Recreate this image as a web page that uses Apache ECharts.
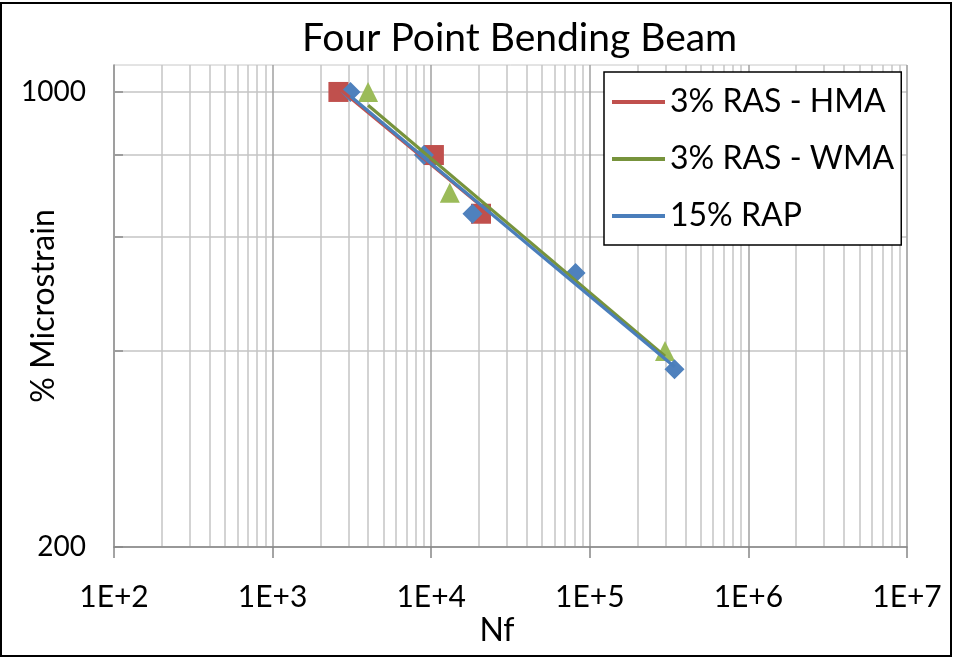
<!DOCTYPE html>
<html>
<head>
<meta charset="utf-8">
<title>Four Point Bending Beam</title>
<script src="https://cdn.jsdelivr.net/npm/echarts@6/dist/echarts.min.js"></script>
<style>
  html, body { margin: 0; padding: 0; background: #ffffff; }
  #chart { width: 953px; height: 658px; }
</style>
</head>
<body>
<div id="chart"></div>
<script>
// Fatigue test results: cycles to failure (Nf) against strain level
const seriesNames = ['3% RAS - HMA', '3% RAS - WMA', '15% RAP'];

const hmaCycles = [2600, 10400, 20600];
const hmaStrain = [1000, 800, 650];

const wmaCycles = [4000, 13100, 298000];
const wmaStrain = [1000, 700, 400];

const rapCycles = [3100, 9000, 18200, 81300, 342000];
const rapStrain = [1000, 800, 650, 527, 375];

// Axis ticks
const xMajorTicks = [1e2, 1e3, 1e4, 1e5, 1e6, 1e7];
const xMajorLabels = ['1E+2', '1E+3', '1E+4', '1E+5', '1E+6', '1E+7'];
const xMinorMultipliers = [2, 3, 4, 5, 6, 7, 8, 9];
const yGridValues = [200, 400, 600, 800, 1000];
const yLabelValues = [200, 1000];

const FONT = 'Lato, "Open Sans", sans-serif';

const xMinorTicks = [];
xMajorTicks.slice(0, -1).forEach(function (d) {
  xMinorMultipliers.forEach(function (m) { xMinorTicks.push(d * m); });
});

// Power-law trendline (least squares on log-log), spanning each series' range
function powerFit(xs, ys) {
  const lx = xs.map(Math.log), ly = ys.map(Math.log);
  const n = lx.length;
  const mx = lx.reduce((a, b) => a + b, 0) / n;
  const my = ly.reduce((a, b) => a + b, 0) / n;
  let sxy = 0, sxx = 0;
  for (let i = 0; i < n; i++) {
    sxy += (lx[i] - mx) * (ly[i] - my);
    sxx += (lx[i] - mx) * (lx[i] - mx);
  }
  const b = sxy / sxx;
  const a = Math.exp(my - b * mx);
  const x0 = Math.min.apply(null, xs), x1 = Math.max.apply(null, xs);
  return [[x0, a * Math.pow(x0, b)], [x1, a * Math.pow(x1, b)]];
}

function pairs(xs, ys) { return xs.map((x, i) => [x, ys[i]]); }

const groups = [
  { name: seriesNames[0], xs: hmaCycles, ys: hmaStrain, marker: 'rect', size: 20, markColor: '#C0504D', lineColor: '#C0504D' },
  { name: seriesNames[1], xs: wmaCycles, ys: wmaStrain, marker: 'triangle', size: 20, markColor: '#9BBB59', lineColor: '#77933C' },
  { name: seriesNames[2], xs: rapCycles, ys: rapStrain, marker: 'diamond', size: 20, markColor: '#4F81BD', lineColor: '#4A7EBB' }
];

const series = [];
groups.forEach(function (g) {
  series.push({
    name: g.name + ' data',
    type: 'scatter',
    data: pairs(g.xs, g.ys),
    symbol: g.marker,
    symbolSize: g.size,
    itemStyle: { color: g.markColor, opacity: 1 },
    z: 2,
    silent: true
  });
});
groups.forEach(function (g, i) {
  series.push({
    name: g.name,
    type: 'line',
    data: powerFit(g.xs, g.ys),
    symbol: 'none',
    color: g.lineColor,
    lineStyle: { color: g.lineColor, width: 3.2 },
    z: 3 + i,
    silent: true
  });
});

const chart = echarts.init(document.getElementById('chart'), null, { renderer: 'canvas' });

chart.setOption({
  animation: false,
  backgroundColor: '#ffffff',
  title: {
    text: 'Four Point Bending Beam',
    left: 297,
    top: 14,
    textStyle: { fontFamily: FONT, fontSize: 39, fontWeight: 'normal', color: '#000000' }
  },
  legend: {
    data: seriesNames,
    orient: 'vertical',
    left: 604,
    top: 72,
    icon: 'rect',
    itemWidth: 53,
    itemHeight: 4,
    itemGap: 19,
    padding: [11, 7, 10, 8],
    borderColor: '#000000',
    borderWidth: 1.5,
    backgroundColor: '#ffffff',
    textStyle: { fontFamily: FONT, fontSize: 32, color: '#000000', lineHeight: 38 }
  },
  grid: {
    left: 114,
    right: 46,
    top: 65,
    bottom: 111,
    containLabel: false,
    outerBoundsMode: 'none',
    show: true,
    borderColor: '#c8c8c8',
    borderWidth: 1
  },
  xAxis: [
    {
      type: 'log',
      logBase: 10,
      min: 100,
      max: 1e7,
      position: 'bottom',
      name: 'Nf',
      nameLocation: 'middle',
      nameGap: 68,
      nameMoveOverlap: false,
      nameTextStyle: { fontFamily: FONT, fontSize: 32, color: '#000000', padding: [0, 27, 0, 0] },
      axisLine: { show: true, lineStyle: { color: '#868686', width: 1.5 } },
      axisTick: { show: true, length: 11, lineStyle: { color: '#868686', width: 1.5 } },
      axisLabel: {
        fontFamily: FONT, fontSize: 30, color: '#000000', margin: 35,
        formatter: function (v) {
          const k = xMajorTicks.findIndex(t => Math.abs(Math.log10(t) - Math.log10(v)) < 1e-6);
          return k >= 0 ? xMajorLabels[k] : '';
        }
      },
      splitLine: { show: true, lineStyle: { color: '#a0a0a0', width: 1.5 } },
      z: 1
    },
    {
      type: 'log',
      logBase: 10,
      min: 100,
      max: 1e7,
      position: 'bottom',
      axisLine: { show: false },
      axisTick: { show: false, customValues: xMinorTicks },
      axisLabel: { show: false },
      splitLine: { show: true, lineStyle: { color: '#c4c4c4', width: 1.5 } },
      z: 0
    }
  ],
  yAxis: {
    type: 'log',
    logBase: 10,
    min: 200,
    max: 1100,
    name: '% Microstrain',
    nameLocation: 'middle',
    nameGap: 54,
    nameRotate: 90,
    nameMoveOverlap: false,
    nameTextStyle: { fontFamily: FONT, fontSize: 32, color: '#000000' },
    axisLine: { show: true, lineStyle: { color: '#868686', width: 1.5 } },
    axisTick: { show: true, inside: true, length: 9, customValues: yGridValues, lineStyle: { color: '#8c8c8c', width: 1.5 } },
    axisLabel: {
      customValues: yLabelValues, fontFamily: FONT, fontSize: 28, color: '#000000', margin: 28,
      formatter: function (v) { return String(Math.round(v)); }
    },
    splitLine: { show: true, lineStyle: { color: '#c4c4c4', width: 1.5 } }
  },
  graphic: [
    {
      type: 'rect',
      shape: { x: 1, y: 3, width: 950, height: 653 },
      style: { fill: 'none', stroke: '#000000', lineWidth: 2 },
      silent: true,
      z: 100
    }
  ],
  series: series
});
</script>
</body>
</html>
